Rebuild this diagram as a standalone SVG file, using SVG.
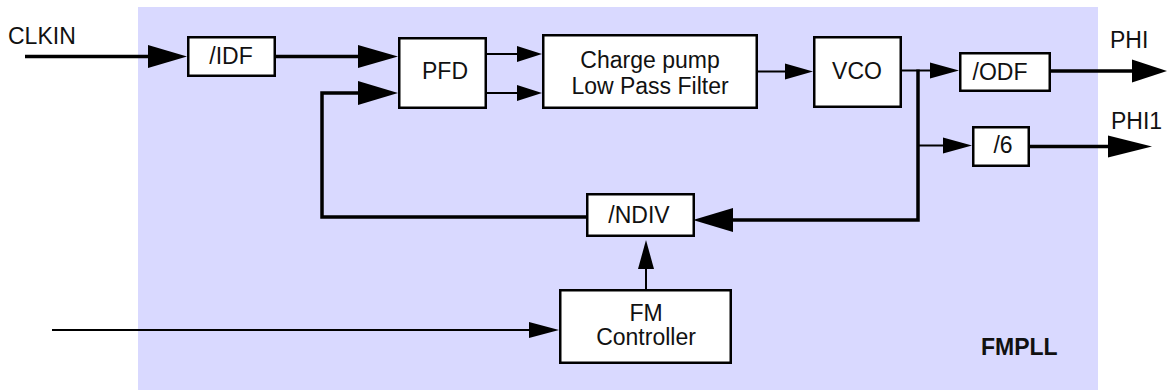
<svg xmlns="http://www.w3.org/2000/svg" width="1167" height="390" viewBox="0 0 1167 390">
<style>
.bg{fill:#d9d9ff;stroke:none}
.box{fill:#ffffff;stroke:#000000;stroke-width:2.5}
.lbl{font-family:"Liberation Sans",Arial,sans-serif;font-size:23px;fill:#111111}
.mid{text-anchor:middle}
.bold{font-weight:bold}
.thick{fill:none;stroke:#000000;stroke-width:3.5}
.thin{fill:none;stroke:#000000;stroke-width:2}
.head{fill:#000000;stroke:none}
</style>
<rect class="bg" x="138" y="7" width="960" height="383"/>
<g id="connectors">
  <!-- CLKIN -> /IDF -->
  <line class="thick" x1="25" y1="56.5" x2="150" y2="56.5"/>
  <polygon class="head" points="148,45 187,56.5 148,68"/>
  <!-- /IDF -> PFD -->
  <line class="thick" x1="276" y1="56.5" x2="360" y2="56.5"/>
  <polygon class="head" points="358,45 398,56.5 358,68"/>
  <!-- feedback /NDIV -> PFD -->
  <polyline class="thick" points="587,217 322,217 322,93 360,93"/>
  <polygon class="head" points="358,81 398,93 358,105"/>
  <!-- PFD -> Charge pump (two) -->
  <line class="thin" x1="487" y1="54" x2="519" y2="54"/>
  <polygon class="head" points="517,46 542,54 517,62"/>
  <line class="thin" x1="487" y1="93" x2="519" y2="93"/>
  <polygon class="head" points="517,85 542,93 517,101"/>
  <!-- Charge pump -> VCO -->
  <line class="thin" x1="758" y1="71.5" x2="787" y2="71.5"/>
  <polygon class="head" points="785,63.5 813,71.5 785,79.5"/>
  <!-- VCO -> /ODF -->
  <line class="thin" x1="902" y1="70.5" x2="932" y2="70.5"/>
  <polygon class="head" points="930,62.5 959,70.5 930,78.5"/>
  <!-- junction vertical and NDIV feedback -->
  <polyline class="thick" points="918,69.5 918,220 731,220"/>
  <polygon class="head" points="733,208 693,220 733,232"/>
  <!-- branch to /6 -->
  <line class="thin" x1="918" y1="145.5" x2="945" y2="145.5"/>
  <polygon class="head" points="943,137.5 972,145.5 943,153.5"/>
  <!-- /ODF -> PHI -->
  <line class="thick" x1="1051" y1="71" x2="1134" y2="71"/>
  <polygon class="head" points="1132,59.5 1167,71 1132,82.5"/>
  <!-- /6 -> PHI1 -->
  <line class="thick" x1="1030" y1="146.5" x2="1110" y2="146.5"/>
  <polygon class="head" points="1108,135.5 1152,146.5 1108,157.5"/>
  <!-- FM Controller -> /NDIV -->
  <line class="thin" x1="646" y1="289" x2="646" y2="267"/>
  <polygon class="head" points="638,269 646,240 654,269"/>
  <!-- input -> FM Controller -->
  <line class="thin" x1="52" y1="330" x2="531" y2="330"/>
  <polygon class="head" points="529,322 559,330 529,338"/>
</g>
<g id="clkin"><text class="lbl" x="8" y="44">CLKIN</text></g>
<g id="idf">
  <rect class="box" x="188.25" y="37.25" width="86.5" height="38.5"/>
  <text class="lbl mid" x="231" y="64">/IDF</text>
</g>
<g id="pfd">
  <rect class="box" x="399.25" y="38.25" width="86.5" height="69.5"/>
  <text class="lbl mid" x="445" y="79">PFD</text>
</g>
<g id="chargepump">
  <rect class="box" x="543.25" y="35.25" width="213.5" height="72.5"/>
  <text class="lbl mid" x="650" y="68">Charge pump</text>
  <text class="lbl mid" x="650" y="94">Low Pass Filter</text>
</g>
<g id="vco">
  <rect class="box" x="814.25" y="37.25" width="86.5" height="69.5"/>
  <text class="lbl mid" x="857" y="79">VCO</text>
</g>
<g id="odf">
  <rect class="box" x="960.25" y="53.25" width="89.5" height="37.5"/>
  <text class="lbl mid" x="1000" y="80">/ODF</text>
</g>
<g id="div6">
  <rect class="box" x="973.25" y="127.25" width="55.5" height="38.5"/>
  <text class="lbl mid" x="1003" y="153">/6</text>
</g>
<g id="ndiv">
  <rect class="box" x="587.25" y="194.25" width="106.5" height="41.5"/>
  <text class="lbl mid" x="639" y="223">/NDIV</text>
</g>
<g id="fmcontroller">
  <rect class="box" x="560.25" y="290.25" width="170.5" height="72.5"/>
  <text class="lbl mid" x="646" y="321">FM</text>
  <text class="lbl mid" x="646" y="345">Controller</text>
</g>
<g id="phi"><text class="lbl" x="1110" y="48">PHI</text></g>
<g id="phi1"><text class="lbl" x="1111" y="129">PHI1</text></g>
<g id="fmpll"><text class="lbl bold" x="981" y="355">FMPLL</text></g>
</svg>
